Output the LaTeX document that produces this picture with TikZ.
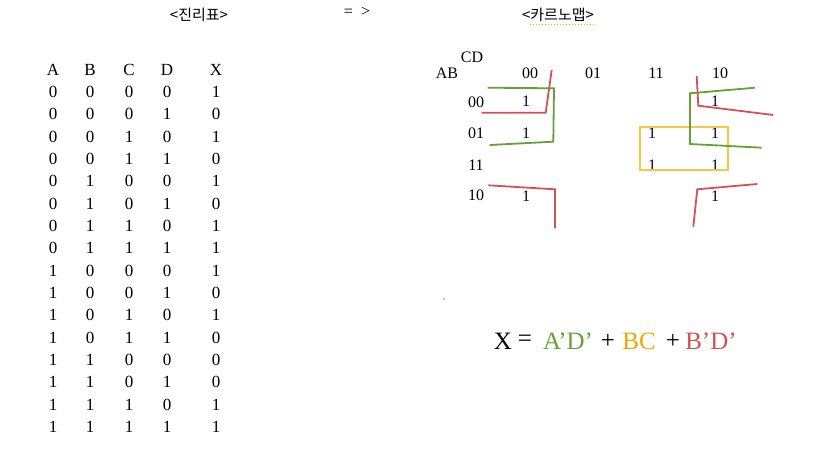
\documentclass[tikz,border=0pt]{standalone}
\usepackage{fontspec}
\setmainfont{Liberation Serif}
\newfontfamily\krfont{Noto Sans CJK KR}
\definecolor{kgreen}{RGB}{104,160,56}
\definecolor{kred}{RGB}{208,82,86}
\definecolor{korange}{RGB}{240,168,0}
\definecolor{kbox}{RGB}{250,196,70}
\begin{document}
\begin{tikzpicture}[x=1pt,y=-1pt,
  tt/.style={font=\fontsize{17}{17}\selectfont, inner sep=0pt},
  km/.style={font=\fontsize{16}{16}\selectfont, inner sep=0pt},
  one/.style={font=\fontsize{16}{16}\selectfont, inner sep=0pt, text=black!80!blue},
  title/.style={font=\krfont\fontsize{15}{15}\selectfont, inner sep=0pt},
  eq/.style={font=\fontsize{25}{25}\selectfont, inner sep=0pt},
  grp/.style={line width=1.8pt, line join=miter},
]
\useasboundingbox (0,0) rectangle (820,450);

% titles
\node[title] (t1) at (199,15) {<진리표>};
\node[font=\fontsize{16}{16}\selectfont, inner sep=0pt] (t2) at (357,12) {=\hspace{8pt}>};
\node[title] (t3) at (558,15) {<카르노맵>};
\draw[korange, dotted, line width=1pt] (t3.south west) ++(8,3) -- ++(66,0);

% truth table header
\foreach \h/\x [count=\c] in {A/53,B/90,C/129,D/167,X/216}
  \node[tt] (h\c) at (\x,70) {\h};
% truth table rows
\foreach \a/\b/\cc/\d/\xx [count=\r from 0] in {
  0/0/0/0/1, 0/0/0/1/0, 0/0/1/0/1, 0/0/1/1/0,
  0/1/0/0/1, 0/1/0/1/0, 0/1/1/0/1, 0/1/1/1/1,
  1/0/0/0/1, 1/0/0/1/0, 1/0/1/0/1, 1/0/1/1/0,
  1/1/0/0/0, 1/1/0/1/0, 1/1/1/0/1, 1/1/1/1/1}{
  \pgfmathsetmacro\yy{92+22.33*\r}
  \node[tt] (ra\r) at (53,\yy) {\a};
  \node[tt] (rb\r) at (90,\yy) {\b};
  \node[tt] (rc\r) at (129,\yy) {\cc};
  \node[tt] (rd\r) at (167,\yy) {\d};
  \node[tt] (rx\r) at (216,\yy) {\xx};
}

% K-map labels
\node[km] (cd) at (472,57) {CD};
\node[km] (ab) at (447,73) {AB};
\node[km] (c00) at (530,73) {00};
\node[km] (c01) at (593,73) {01};
\node[km] (c11) at (656,73) {11};
\node[km] (c10) at (720,73) {10};
\node[km] (r00) at (476,102) {00};
\node[km] (r01) at (476,133) {01};
\node[km] (r11) at (476,165) {11};
\node[km] (r10) at (476,195) {10};

% ones
\node[one] (m0)  at (526,101) {1};
\node[one] (m4)  at (526,133) {1};
\node[one] (m8)  at (526,196) {1};
\node[one] (m2)  at (715,101) {1};
\node[one] (m7)  at (652,133) {1};
\node[one] (m6)  at (715,133) {1};
\node[one] (m15) at (652,165) {1};
\node[one] (m14) at (715,165) {1};
\node[one] (m10) at (715,196) {1};

% groups
\draw[grp, kbox] (640,127) rectangle (727.7,170.3);
\draw[grp, kred] (481.7,112.7) -- (545.7,112.7) -- (551.7,70);
\draw[grp, kred] (488.3,185.3) -- (555,189.3) -- (555,228.3);
\draw[grp, kred] (696.7,76) -- (698.3,105.7) -- (773.3,115);
\draw[grp, kred] (693.3,226.7) -- (697.3,189.3) -- (757.3,184);
\draw[grp, kgreen] (487.7,87.7) -- (554,88.3) -- (553.3,141.7) -- (489.7,145);
\draw[grp, kgreen] (755,87.7) -- (690,93.3) -- (690,144) -- (761.7,147.7);

\fill (444,299) circle (0.7);

% equation
\node[eq] (ex) at (503,341) {X};
\node[eq] (eeq) at (525,341) {=};
\node[eq, text=kgreen] (e1) at (568,341) {A'D'};
\node[eq] (ep1) at (608,341) {+};
\node[eq, text=korange] (e2) at (639,341) {BC};
\node[eq] (ep2) at (673,341) {+};
\node[eq, text=kred] (e3) at (711,341) {B'D'};
\end{tikzpicture}
\end{document}
